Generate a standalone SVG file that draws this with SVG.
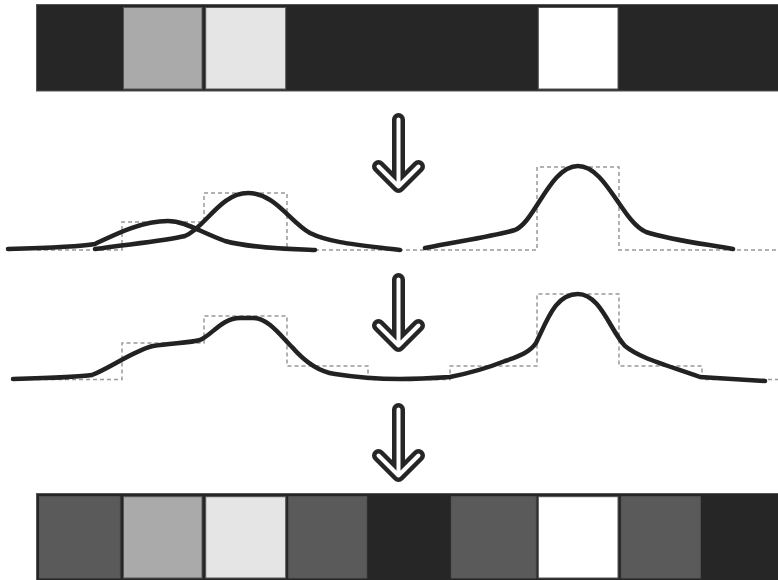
<svg xmlns="http://www.w3.org/2000/svg" width="778" height="580" viewBox="0 0 778 580">
<style>
.bar{fill:#262626;stroke:#555;stroke-width:1}
.cell{stroke:#555;stroke-width:1}
.step{fill:none;stroke:#999;stroke-width:1.5;stroke-dasharray:4 3}
.curve{fill:none;stroke:#222;stroke-width:4.5;stroke-linecap:round;stroke-linejoin:round}
.arrO{fill:none;stroke:#262626;stroke-width:13;stroke-linecap:round;stroke-linejoin:round}
.arrI{fill:none;stroke:#fff;stroke-width:4;stroke-linecap:round;stroke-linejoin:round}
</style>
<rect width="778" height="580" fill="#fff"/>
<g id="input-bar">
<rect class="bar" x="36.5" y="4.5" width="742" height="86.5"/>
<rect class="cell" x="123.5" y="7.5" width="78.5" height="81.5" fill="#aaaaaa"/>
<rect class="cell" x="205.7" y="7.5" width="80" height="81.5" fill="#e5e5e5"/>
<rect class="cell" x="538.3" y="7.5" width="79.7" height="81.5" fill="#ffffff"/>
</g>
<g id="kernels">
<path class="step" d="M37,250 H122 V222 H204 V193 H287 V250 H537 V167 H619 V250 H778"/>
<path class="curve" d="M8,249 C45,248 78,247 95,244 C112,236 140,221 168,221 C185,221 200,232 225,241 C250,248 290,249 315,250"/>
<path class="curve" d="M95,249 C130,244 165,241 185,236 C205,228 220,193 248,193 C275,193 290,222 310,233 C330,243 360,245 400,250"/>
<path class="curve" d="M425,248 C460,241 495,236 515,230 C535,222 550,166 578,166 C606,166 622,222 646,232 C670,240 705,244 733,249"/>
</g>
<g id="sum">
<path class="step" d="M37,379.5 H122 V343 H204 V316 H287 V366 H368 V379.5 H450 V366 H537 V294 H619 V366 H702 V379.5 H778"/>
<path class="curve" d="M13,379 C50,378 80,377 92,375 C110,368 135,350 153,346 C170,343 190,343 200,340 C212,335 222,318 240,318 L253,318 C268,318 280,335 292,347 C305,362 320,372 335,374 C360,378 380,379 400,379 C420,379 435,378 450,377 C470,373 490,367 505,361 C520,356 530,352 536,343 C548,318 556,294 578,294 C600,294 610,330 625,346 C640,358 660,363 700,377 L765,381"/>
</g>
<g id="output-bar">
<rect class="bar" x="36.5" y="493.5" width="742" height="87"/>
<rect class="cell" x="39.5" y="496.7" width="80.5" height="81.3" fill="#5a5a5a"/>
<rect class="cell" x="123.5" y="496.7" width="78.5" height="81.3" fill="#aaaaaa"/>
<rect class="cell" x="205.7" y="496.7" width="80" height="81.3" fill="#e5e5e5"/>
<rect class="cell" x="288.7" y="496.7" width="78" height="81.3" fill="#5a5a5a"/>
<rect class="cell" x="451.3" y="496.7" width="84.7" height="81.3" fill="#5a5a5a"/>
<rect class="cell" x="538.3" y="496.7" width="79.7" height="81.3" fill="#ffffff"/>
<rect class="cell" x="621.3" y="496.7" width="79" height="81.3" fill="#5a5a5a"/>
</g>
<g id="connectors">
<g id="arrow1">
<path class="arrO" d="M398.5,119.5 V186.5 M378.5,166.5 L398.5,186.5 L418.5,166.5"/>
<path class="arrI" d="M398.5,119.5 V186.5 M378.5,166.5 L398.5,186.5 L418.5,166.5"/>
</g>
<g id="arrow2">
<path class="arrO" d="M398.5,279.5 V345.5 M378.5,325.5 L398.5,345.5 L418.5,325.5"/>
<path class="arrI" d="M398.5,279.5 V345.5 M378.5,325.5 L398.5,345.5 L418.5,325.5"/>
</g>
<g id="arrow3">
<path class="arrO" d="M398.5,409.5 V475.5 M378.5,455.5 L398.5,475.5 L418.5,455.5"/>
<path class="arrI" d="M398.5,409.5 V475.5 M378.5,455.5 L398.5,475.5 L418.5,455.5"/>
</g>
</g>
</svg>
